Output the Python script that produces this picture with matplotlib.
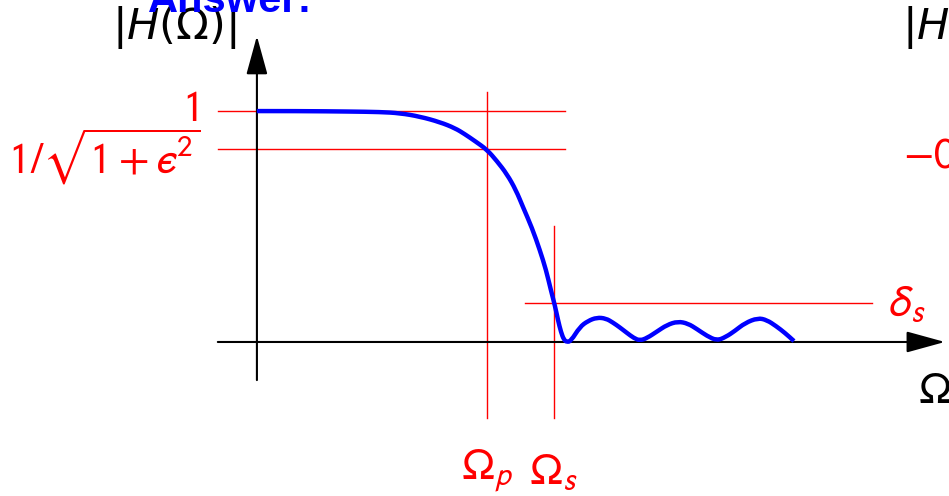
import matplotlib
matplotlib.use("Agg")
import matplotlib.pyplot as plt
from matplotlib.path import Path
from matplotlib.patches import PathPatch

plt.rcParams['mathtext.fontset'] = 'stixsans'

# lowpass magnitude response |H(Omega)|, frequency in units of Omega_p
omega = [0.0, 0.187, 0.404, 0.535, 0.622, 0.709, 0.796, 0.861, 0.904, 0.948,
         1.0, 1.043, 1.087, 1.126, 1.157, 1.196, 1.230, 1.257, 1.278, 1.296,
         1.309, 1.322, 1.335, 1.348, 1.365, 1.404, 1.439, 1.478, 1.517, 1.548,
         1.578, 1.609, 1.639, 1.665, 1.696, 1.739, 1.783, 1.830, 1.874, 1.913,
         1.957, 2.0, 2.039, 2.078, 2.122, 2.178, 2.217, 2.257, 2.296, 2.335]
mag = [1.0, 1.0, 0.998, 0.996, 0.991, 0.976, 0.952, 0.926, 0.900, 0.870,
       0.833, 0.784, 0.727, 0.658, 0.584, 0.494, 0.398, 0.312, 0.225, 0.156,
       0.095, 0.043, 0.009, 0.0, 0.004, 0.065, 0.091, 0.106, 0.102, 0.084,
       0.063, 0.039, 0.017, 0.006, 0.017, 0.045, 0.074, 0.089, 0.080, 0.056,
       0.026, 0.006, 0.022, 0.048, 0.082, 0.104, 0.095, 0.069, 0.039, 0.004]

omega_p = 1.0
omega_s = 1.29
pass_edge = 0.835   # 1/sqrt(1+eps^2)
delta_s = 0.169

fig = plt.figure(figsize=(9.49, 4.96), dpi=100)
ax = fig.add_axes([0, 0, 1, 1])
ax.set_xlim(-1.117, 3.009)
ax.set_ylim(-0.667, 1.481)
ax.axis('off')

red = '#ff0000'
# tolerance lines
ax.plot([-0.17, 1.339], [1.0, 1.0], color=red, lw=1.0)
ax.plot([-0.17, 1.339], [pass_edge, pass_edge], color=red, lw=1.0)
ax.plot([omega_p, omega_p], [-0.329, 1.082], color=red, lw=1.0)
ax.plot([omega_s, omega_s], [-0.329, 0.502], color=red, lw=1.0)
ax.plot([1.165, 2.674], [delta_s, delta_s], color=red, lw=1.0)

# axes with arrows
arrow = dict(arrowstyle='-|>,head_length=0.8,head_width=0.22', mutation_scale=30,
             lw=1.5, color='black', shrinkA=0, shrinkB=0)
ax.annotate('', xy=(0, 1.325), xytext=(0, -0.165), arrowprops=arrow)
ax.annotate('', xy=(2.991, 0), xytext=(-0.17, 0), arrowprops=arrow)

# smooth curve: quadratic beziers through midpoints of the samples
pts = list(zip(omega, mag))
verts = [pts[0]]
codes = [Path.MOVETO]
for i in range(1, len(pts) - 1):
    mid = ((pts[i][0] + pts[i + 1][0]) / 2, (pts[i][1] + pts[i + 1][1]) / 2)
    verts += [pts[i], mid]
    codes += [Path.CURVE3, Path.CURVE3]
verts.append(pts[-1])
codes.append(Path.LINETO)
ax.add_patch(PathPatch(Path(verts, codes), facecolor='none', edgecolor='#0000ff',
                       lw=3.2, capstyle='butt', zorder=5))

# labels
fs = 32
ax.text(-0.257, 1.013, r'$1$', color=red, fontsize=fs, ha='right', va='center')
ax.text(-0.245, 0.80, '$1/\\sqrt{1+\u03f5^2}$', color=red, fontsize=fs,
        ha='right', va='center')
ax.text(omega_p, -0.56, r'$\Omega_p$', color=red, fontsize=fs, ha='center', va='center')
ax.text(omega_s, -0.56, r'$\Omega_s$', color=red, fontsize=fs, ha='center', va='center')
ax.text(2.745, delta_s, r'$\delta_s$', color=red, fontsize=fs, ha='left', va='center')
ax.text(2.875, -0.21, r'$\Omega$', color='black', fontsize=fs, ha='left', va='center')
ax.text(-0.63, 1.36, r'$|H(\Omega)|$', color='black', fontsize=31, ha='left',
        va='center', math_fontfamily='dejavusans')
ax.text(2.805, 1.36, r'$|H(\Omega)|$', color='black', fontsize=31, ha='left',
        va='center', math_fontfamily='dejavusans')
ax.text(2.81, 0.81, r'$-0$', color=red, fontsize=fs, ha='left', va='center')
ax.text(-0.475, 1.429, 'Answer:', color='#0000ff', fontsize=30, fontweight='bold',
        family='Liberation Sans', ha='left', va='baseline')

fig.savefig('out.png', dpi=100)
